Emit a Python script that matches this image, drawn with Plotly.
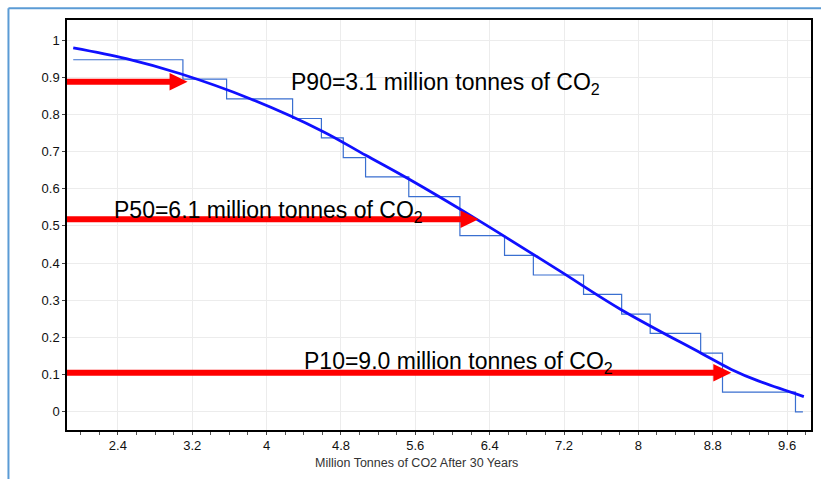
import plotly.graph_objects as go

# ---------------- data ----------------
# empirical exceedance steps (x where each level starts, probability level)
step_x = [1.92, 3.10, 3.57, 4.28, 4.59, 4.825, 5.065, 5.53, 6.08, 6.56, 6.87,
          7.41, 7.82, 8.127, 8.67, 8.905, 9.69, 9.77]
step_y = [0.947, 0.895, 0.842, 0.789, 0.737, 0.684, 0.632, 0.579, 0.474, 0.421,
          0.368, 0.316, 0.263, 0.211, 0.158, 0.053, 0.0, 0.0]

# fitted smooth exceedance curve
curve_x = [1.92, 2.49, 3.065, 3.816, 4.60, 5.067, 5.53, 6.28, 7.14, 7.82,
           8.68, 9.00, 9.29, 9.78]
curve_y = [0.979, 0.950, 0.910, 0.843, 0.755, 0.690, 0.626, 0.515, 0.381,
           0.274, 0.157, 0.114, 0.083, 0.041]

# percentile annotations
p_names = ["P90", "P50", "P10"]
p_values = ["3.1", "6.1", "9.0"]
p_levels = [0.888, 0.518, 0.105]      # probability level of each arrow
p_tips = [3.15, 6.28, 9.0]            # x where each arrow ends

x_title = "Million Tonnes of CO2 After 30 Years"

# ---------------- layout constants ----------------
W, H = 821, 479
ML, MR, MT, MB = 67, 8, 20, 49
XR = [1.853, 9.857]
YR = [-0.049, 1.054]
plot_w = W - ML - MR
plot_h = H - MT - MB
px_per_x = plot_w / (XR[1] - XR[0])

# text anchor positions (data coords) for the three labels
label_x = [4.244, 2.340, 4.380]
label_y = [0.884, 0.539, 0.132]

HEAD_LEN = 18
HEAD_HALF = 8.7
SHAFT_W = 6
RED = "#ff0000"

fig = go.Figure()
fig.add_trace(go.Scatter(x=step_x, y=step_y, mode="lines", line_shape="hv",
                         line=dict(color="#3a6fd0", width=1.2),
                         hoverinfo="skip", showlegend=False))
fig.add_trace(go.Scatter(x=curve_x, y=curve_y, mode="lines",
                         line=dict(color="#1010ff", width=2.8, shape="spline",
                                   smoothing=1.0),
                         hoverinfo="skip", showlegend=False))

shapes = []
annotations = []
for name, val, lev, tip, lx, ly in zip(p_names, p_values, p_levels, p_tips,
                                        label_x, label_y):
    # shaft
    shapes.append(dict(type="line", xref="x", yref="y", x0=XR[0],
                       x1=tip - (HEAD_LEN - 1) / px_per_x, y0=lev, y1=lev,
                       line=dict(color=RED, width=SHAFT_W)))
    # head
    shapes.append(dict(type="path", xref="x", yref="y",
                       xsizemode="pixel", ysizemode="pixel",
                       xanchor=tip, yanchor=lev,
                       path=f"M0,0 L{-HEAD_LEN},{HEAD_HALF} L{-HEAD_LEN},{-HEAD_HALF} Z",
                       fillcolor=RED, line=dict(color=RED, width=0)))
    annotations.append(dict(x=lx, y=ly, xref="x", yref="y", xanchor="left",
                            yanchor="middle", showarrow=False,
                            text=f"{name}={val} million tonnes of CO<sub>2</sub>",
                            font=dict(family="Liberation Sans, Arial", size=23,
                                      color="#000000")))

# outer light-blue frame (top and left edges visible)
fx0 = (8.3 - ML) / plot_w
fy0 = (H - MB - 8.3) / plot_h
shapes.append(dict(type="line", xref="paper", yref="paper", x0=fx0, x1=(W + 5 - ML) / plot_w,
                   y0=fy0, y1=fy0, line=dict(color="#5b9bd5", width=2)))
shapes.append(dict(type="line", xref="paper", yref="paper", x0=fx0, x1=fx0,
                   y0=fy0, y1=-(MB + 5) / plot_h, line=dict(color="#5b9bd5", width=2)))

annotations.append(dict(x=(417.7 - ML) / plot_w, y=-(463 - (H - MB)) / plot_h,
                        xref="paper", yref="paper", xanchor="center",
                        yanchor="middle", showarrow=False, text=x_title,
                        font=dict(family="Liberation Sans, Arial", size=12.5,
                                  color="#333333")))

fig.update_layout(
    width=W, height=H,
    margin=dict(l=ML, r=MR, t=MT, b=MB, pad=0),
    paper_bgcolor="white", plot_bgcolor="white",
    font=dict(family="Liberation Sans, Arial", size=13, color="#111111"),
    shapes=shapes, annotations=annotations, showlegend=False,
)
fig.update_xaxes(range=XR, tick0=0, dtick=0.8, showgrid=True, gridcolor="#ececec",
                 gridwidth=1, zeroline=False, showline=True, linecolor="#000000",
                 linewidth=1.5, mirror=True, ticks="outside", ticklen=3,
                 tickcolor="#444444",
                 minor=dict(dtick=0.2, tick0=0, ticks="outside", ticklen=3,
                            tickcolor="#555555", showgrid=False))
fig.update_yaxes(range=YR, tick0=0, dtick=0.1, showgrid=True, gridcolor="#ececec",
                 gridwidth=1, zeroline=False, showline=True, linecolor="#000000",
                 linewidth=1.5, mirror=True, ticks="outside", ticklen=3,
                 tickcolor="#444444")

fig.write_html("out.html", config={"displayModeBar": False},
               post_script="document.body.style.margin='0';document.body.style.overflow='hidden';")
